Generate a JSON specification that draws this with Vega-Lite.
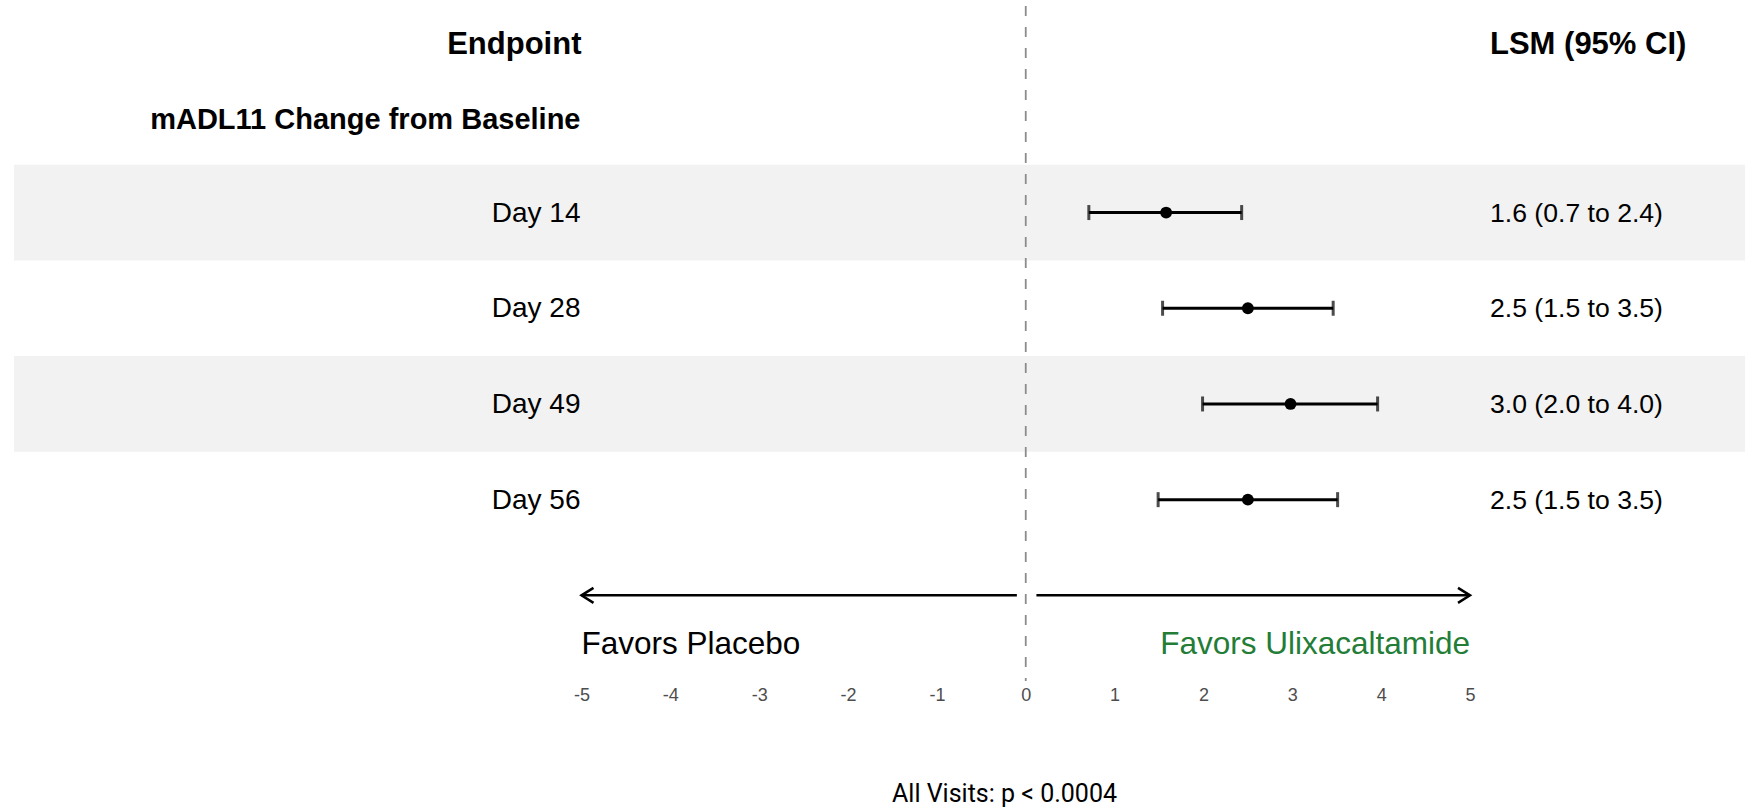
{
  "$schema": "https://vega.github.io/schema/vega-lite/v6.json",
  "width": 1731,
  "height": 675,
  "autosize": "none",
  "padding": {"left": 14, "top": 6, "right": 0, "bottom": 129},
  "background": "white",
  "config": {"view": {"stroke": null}, "font": "Liberation Sans"},
  "datasets": {
    "rows": [
      {"endpoint": "Day 14", "lsm": 1.58, "lo": 0.71, "hi": 2.43, "label": "1.6 (0.7 to 2.4)", "shade": true},
      {"endpoint": "Day 28", "lsm": 2.5, "lo": 1.54, "hi": 3.46, "label": "2.5 (1.5 to 3.5)", "shade": false},
      {"endpoint": "Day 49", "lsm": 2.98, "lo": 1.99, "hi": 3.96, "label": "3.0 (2.0 to 4.0)", "shade": true},
      {"endpoint": "Day 56", "lsm": 2.5, "lo": 1.49, "hi": 3.51, "label": "2.5 (1.5 to 3.5)", "shade": false}
    ],
    "arrows": [
      {"side": "Favors Placebo", "from": -0.1, "to": -5},
      {"side": "Favors Ulixacaltamide", "from": 0.12, "to": 5}
    ],
    "one": [{"k": 1}]
  },
  "layer": [
    {
      "data": {"name": "rows"},
      "transform": [{"filter": "datum.shade"}],
      "mark": {"type": "rect", "color": "#f2f2f2"},
      "encoding": {
        "y": {"field": "endpoint", "type": "nominal", "axis": null,
              "scale": {"type": "band", "domain": ["sec", "Day 14", "Day 28", "Day 49", "Day 56", "arrow"], "paddingInner": 0, "paddingOuter": 0.5266, "align": 0.625}}
      }
    },
    {
      "data": {"name": "one"},
      "mark": {"type": "rule", "color": "#8c8c8c", "strokeWidth": 1.8, "strokeDash": [10, 11]},
      "encoding": {
        "x": {"datum": 0, "type": "quantitative",
              "scale": {"domain": [-11.387, 8.095], "nice": false, "zero": false},
              "axis": {"values": [-5, -4, -3, -2, -1, 0, 1, 2, 3, 4, 5], "labelExpr": "'' + datum.value", "ticks": false, "tickSize": 0, "domain": false, "grid": false,
                       "labelFont": "Liberation Sans", "labelFontSize": 18, "labelColor": "#4d4d4d", "labelPadding": 5,
                       "title": "All Visits: p < 0.0004", "titleFont": "Roboto", "titleFontSize": 25, "titleFontWeight": "normal", "titleColor": "#000000",
                       "titleX": 990, "titleY": 120, "titleAlign": "center", "titleBaseline": "alphabetic"}}
      }
    },
    {
      "data": {"name": "rows"},
      "mark": {"type": "rule", "color": "black", "strokeWidth": 3},
      "encoding": {
        "x": {"field": "lo", "type": "quantitative"},
        "x2": {"field": "hi"},
        "y": {"field": "endpoint", "type": "nominal"}
      }
    },
    {
      "data": {"name": "rows"},
      "transform": [{"fold": ["lo", "hi"], "as": ["end", "val"]}],
      "mark": {"type": "tick", "color": "black", "thickness": 3, "size": 15, "orient": "vertical"},
      "encoding": {
        "x": {"field": "val", "type": "quantitative"},
        "y": {"field": "endpoint", "type": "nominal"}
      }
    },
    {
      "data": {"name": "rows"},
      "mark": {"type": "point", "filled": true, "color": "black", "opacity": 1, "size": 140},
      "encoding": {
        "x": {"field": "lsm", "type": "quantitative"},
        "y": {"field": "endpoint", "type": "nominal"}
      }
    },
    {
      "data": {"name": "rows"},
      "mark": {"type": "text", "align": "right", "baseline": "middle", "fontSize": 28, "color": "black", "dx": -1, "dy": 1},
      "encoding": {
        "x": {"datum": -5, "type": "quantitative"},
        "y": {"field": "endpoint", "type": "nominal"},
        "text": {"field": "endpoint"}
      }
    },
    {
      "data": {"name": "rows"},
      "mark": {"type": "text", "align": "left", "baseline": "middle", "fontSize": 26.6, "color": "black", "dx": 20, "dy": 1},
      "encoding": {
        "x": {"datum": 5, "type": "quantitative"},
        "y": {"field": "endpoint", "type": "nominal"},
        "text": {"field": "label"}
      }
    },
    {
      "data": {"name": "one"},
      "mark": {"type": "text", "align": "right", "baseline": "middle", "fontSize": 29, "fontWeight": "bold", "color": "black", "dx": -1, "dy": 3},
      "encoding": {
        "x": {"datum": -5, "type": "quantitative"},
        "y": {"datum": "sec", "type": "nominal"},
        "text": {"value": "mADL11 Change from Baseline"}
      }
    },
    {
      "data": {"name": "one"},
      "mark": {"type": "text", "align": "right", "baseline": "middle", "fontSize": 31, "fontWeight": "bold", "color": "black", "dx": 0, "dy": -71.5},
      "encoding": {
        "x": {"datum": -5, "type": "quantitative"},
        "y": {"datum": "sec", "type": "nominal"},
        "text": {"value": "Endpoint"}
      }
    },
    {
      "data": {"name": "one"},
      "mark": {"type": "text", "align": "left", "baseline": "middle", "fontSize": 31, "fontWeight": "bold", "color": "black", "dx": 20, "dy": -71.5},
      "encoding": {
        "x": {"datum": 5, "type": "quantitative"},
        "y": {"datum": "sec", "type": "nominal"},
        "text": {"value": "LSM (95% CI)"}
      }
    },
    {
      "data": {"name": "arrows"},
      "mark": {"type": "rule", "color": "black", "strokeWidth": 2.5},
      "encoding": {
        "x": {"field": "from", "type": "quantitative"},
        "x2": {"field": "to"},
        "y": {"datum": "arrow", "type": "nominal"}
      }
    },
    {
      "data": {"name": "arrows"},
      "transform": [{"filter": "datum.to < 0"}],
      "mark": {"type": "point", "shape": "M1.6,-1L0,0L1.6,1", "filled": false, "color": "black", "strokeWidth": 2.5, "opacity": 1, "size": 225},
      "encoding": {
        "x": {"field": "to", "type": "quantitative"},
        "y": {"datum": "arrow", "type": "nominal"}
      }
    },
    {
      "data": {"name": "arrows"},
      "transform": [{"filter": "datum.to > 0"}],
      "mark": {"type": "point", "shape": "M-1.6,-1L0,0L-1.6,1", "filled": false, "color": "black", "strokeWidth": 2.5, "opacity": 1, "size": 225},
      "encoding": {
        "x": {"field": "to", "type": "quantitative"},
        "y": {"datum": "arrow", "type": "nominal"}
      }
    },
    {
      "data": {"name": "arrows"},
      "transform": [{"filter": "datum.to < 0"}],
      "mark": {"type": "text", "align": "left", "baseline": "middle", "fontSize": 31.5, "color": "black", "dy": 50},
      "encoding": {
        "x": {"field": "to", "type": "quantitative"},
        "y": {"datum": "arrow", "type": "nominal"},
        "text": {"field": "side"}
      }
    },
    {
      "data": {"name": "arrows"},
      "transform": [{"filter": "datum.to > 0"}],
      "mark": {"type": "text", "align": "right", "baseline": "middle", "fontSize": 31.5, "color": "#237d37", "dy": 50},
      "encoding": {
        "x": {"field": "to", "type": "quantitative"},
        "y": {"datum": "arrow", "type": "nominal"},
        "text": {"field": "side"}
      }
    }
  ]
}
